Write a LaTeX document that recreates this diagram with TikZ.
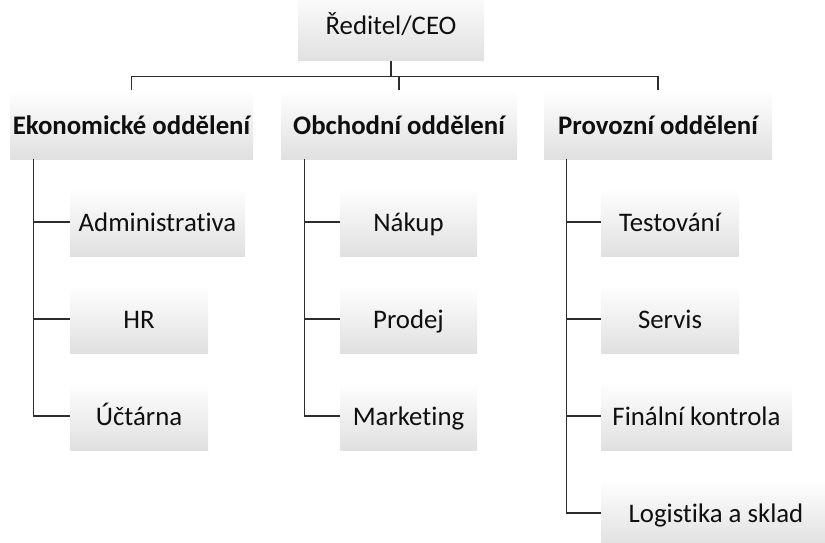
\documentclass[tikz,border=0pt]{standalone}
\usepackage{fontspec}
\setmainfont[Ligatures=NoCommon]{Carlito}
\definecolor{boxgray}{RGB}{224,224,224}
\definecolor{linegray}{RGB}{45,45,45}
\definecolor{txt}{RGB}{15,15,15}
\begin{document}
\begin{tikzpicture}[x=1pt,y=-1pt,
  box/.style={top color=white, middle color=white, bottom color=boxgray,
    draw=none, inner sep=0pt, text=txt,
    font=\fontsize{26.8}{30}\selectfont, text height=24pt, text depth=5pt},
  dept/.style={box, font=\fontsize{26.8}{30}\selectfont\bfseries, minimum height=69pt},
  child/.style={box, minimum height=68pt},
  conn/.style={draw=linegray, line width=1.3pt}]
\useasboundingbox (0,0) rectangle (825,543);
\begin{scope}
\clip (0,0) rectangle (825,543);
\node[box, minimum width=186pt, minimum height=72pt] (ceo) at (391,25) {Ředitel/CEO};
\node[dept, minimum width=243pt] (eko) at (131.5,124.5) {Ekonomické oddělení};
\node[dept, minimum width=236pt] (obch) at (399,124.5) {Obchodní oddělení};
\node[dept, minimum width=228pt] (prov) at (658,124.5) {Provozní oddělení};
\node[child, minimum width=175pt] (adm) at (157.5,222) {Administrativa};
\node[child, minimum width=138pt] (hr) at (139,319) {HR};
\node[child, minimum width=138pt] (uct) at (139,416) {Účtárna};
\node[child, minimum width=137pt] (nak) at (408.5,222) {Nákup};
\node[child, minimum width=137pt] (prod) at (408.5,319) {Prodej};
\node[child, minimum width=137pt] (mark) at (408.5,416) {Marketing};
\node[child, minimum width=138pt] (test) at (670,222) {Testování};
\node[child, minimum width=138pt] (serv) at (670,319) {Servis};
\node[child, minimum width=191pt] (fin) at (696.5,416) {Finální kontrola};
\node[child, minimum width=230pt] (log) at (716,513) {Logistika a sklad};
\end{scope}
\draw[conn] (ceo.south) -- ++(0,15) coordinate (j);
\draw[conn] (eko.north |- j) -- (prov.north |- j);
\draw[conn] (eko.north |- j) -- (eko.north);
\draw[conn] (obch.north |- j) -- (obch.north);
\draw[conn] (prov.north |- j) -- (prov.north);
\coordinate (ek) at ([xshift=24pt]eko.south west);
\coordinate (ob) at ([xshift=24pt]obch.south west);
\coordinate (pr) at ([xshift=23pt]prov.south west);
\draw[conn] (ek) |- (adm.west);
\draw[conn] (ek) |- (hr.west);
\draw[conn] (ek) |- (uct.west);
\draw[conn] (ob) |- (nak.west);
\draw[conn] (ob) |- (prod.west);
\draw[conn] (ob) |- (mark.west);
\draw[conn] (pr) |- (test.west);
\draw[conn] (pr) |- (serv.west);
\draw[conn] (pr) |- (fin.west);
\draw[conn] (pr) |- (log.west);
\end{tikzpicture}
\end{document}
